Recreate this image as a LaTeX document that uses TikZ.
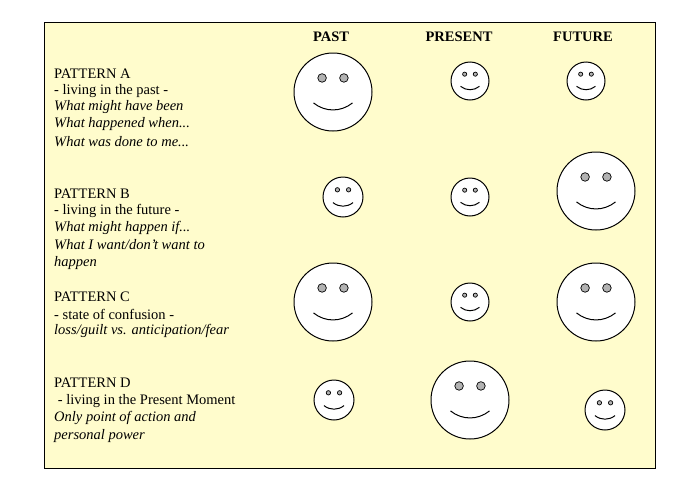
\documentclass[tikz,border=0pt]{standalone}
\usepackage{fontspec}
\setmainfont{Liberation Serif}
\begin{document}
\begin{tikzpicture}[x=1pt,y=-1pt,
  lbl/.style={anchor=west,inner sep=0pt,font=\fontsize{14.5}{16}\selectfont},
  hdr/.style={inner sep=0pt,font=\bfseries\fontsize{14.5}{16}\selectfont},
  face/.style={circle,draw,line width=1pt,fill=white,inner sep=0pt}]
\useasboundingbox (0,0) rectangle (689,501);
\fill[white] (0,0) rectangle (689,501);
\draw[fill={rgb,255:red,255;green,252;blue,204},line width=0.8pt] (44,22) rectangle (655,468);
\node[hdr] (hp) at (331,37) {PAST};
\node[hdr] (hn) at (459,37) {PRESENT};
\node[hdr] (hf) at (583,37) {FUTURE};
\newcommand{\smiley}[4]{%
  \node[face,minimum size=#4*2pt] (#1) at (#2,#3) {};
  \fill[gray!60,draw=black,line width=0.7pt] (#2-0.28*#4,#3-0.36*#4) circle[radius=0.11*#4];
  \fill[gray!60,draw=black,line width=0.7pt] (#2+0.28*#4,#3-0.36*#4) circle[radius=0.11*#4];
  \draw[line width=1pt] (#2-0.5*#4,#3+0.28*#4) .. controls (#2-0.2*#4,#3+0.52*#4) and (#2+0.2*#4,#3+0.52*#4) .. (#2+0.5*#4,#3+0.28*#4);}
\smiley{ap}{333}{92}{39}\smiley{an}{470}{81}{19}\smiley{af}{586}{81}{19}
\smiley{bp}{343}{197}{20}\smiley{bn}{470}{197}{19}\smiley{bf}{596}{191}{39}
\smiley{cp}{333}{302}{39}\smiley{cn}{470}{302}{19}\smiley{cf}{596}{302}{39}
\smiley{dp}{334}{400}{20}\smiley{dn}{470}{400}{39}\smiley{df}{605}{410}{20}
\node[lbl] (a1) at (54,74) {PATTERN A};
\node[lbl] (a2) at (54,91) {- living in the past -};
\node[lbl] (a3) at (54,107) {\itshape What might have been};
\node[lbl] (a4) at (54,124) {\itshape What happened when...};
\node[lbl] (a5) at (54,142) {\itshape What was done to me...};
\node[lbl] (b1) at (54,194) {PATTERN B};
\node[lbl] (b2) at (54,211) {- living in the future -};
\node[lbl] (b3) at (54,228) {\itshape What might happen if...};
\node[lbl] (b4) at (54,245) {\itshape What I want/don't want to};
\node[lbl] (b5) at (54,263) {\itshape happen};
\node[lbl] (c1) at (54,297) {PATTERN C};
\node[lbl] (c2) at (54,314) {- state of confusion -};
\node[lbl] (c3) at (54,331) {\itshape loss/guilt vs. anticipation/fear};
\node[lbl] (d1) at (54,383) {PATTERN D};
\node[lbl] (d2) at (54,401) {\ - living in the Present Moment};
\node[lbl] (d3) at (54,418) {\itshape Only point of action and};
\node[lbl] (d4) at (54,436) {\itshape personal power};
\end{tikzpicture}
\end{document}
